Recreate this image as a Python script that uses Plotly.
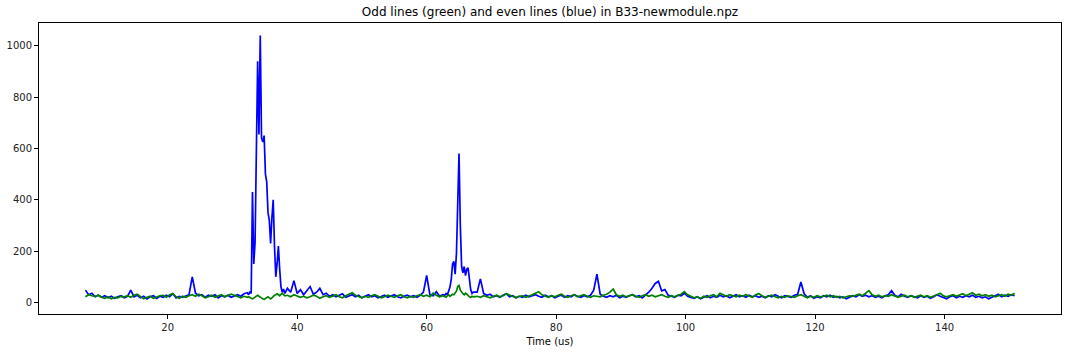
import numpy as np
import plotly.graph_objects as go

# ---- time grid (us): coarse baseline segments, finer around the peaks ----
x_a = 7.3 + 0.5 * np.arange(51)    # 7.3 .. 32.3
x_b = 32.5 + 0.2 * np.arange(29)   # 32.5 .. 38.1
x_c = 38.5 + 0.5 * np.arange(49)   # 38.5 .. 62.5
x_d = 62.8 + 0.2 * np.arange(23)   # 62.8 .. 67.2
x_e = 67.8 + 0.5 * np.arange(167)  # 67.8 .. 150.8
time_us = np.concatenate([x_a, x_b, x_c, x_d, x_e])

# ---- even lines (blue) ----
blue_a = [48, 30, 36, 22, 28, 20, 26, 18, 24, 16, 22, 26, 18, 24, 48, 22, 28, 18, 24, 14,
          22, 26, 16, 24, 20, 28, 22, 34, 18, 24, 20, 26, 30, 100, 36, 26, 30, 20, 28, 24,
          30, 18, 26, 22, 28, 20, 26, 30, 24, 34, 38]
blue_b = [30, 42, 35, 430, 150, 235, 640, 940, 655, 1040, 640, 625, 650, 500, 470, 350, 320,
          230, 330, 400, 220, 100, 150, 220, 130, 60, 40, 52, 35]
blue_c = [55, 40, 85, 35, 50, 30, 45, 62, 32, 40, 55, 30, 36, 24, 30, 22, 28, 34, 20, 26,
          30, 22, 28, 18, 24, 30, 22, 26, 18, 24, 28, 20, 26, 30, 22, 18, 24, 28, 22, 26,
          20, 28, 40, 105, 30, 26, 42, 24, 30]
blue_d = [28, 35, 30, 45, 60, 90, 150, 160, 110, 190, 400, 580, 300, 140, 115, 140, 105, 130,
          135, 80, 50, 35, 40]
blue_e = [40, 92, 35, 28, 32, 22, 26, 20, 28, 34, 22, 26, 18, 24, 20, 28, 22, 26, 30, 24,
          20, 28, 22, 26, 18, 24, 28, 20, 26, 22, 30, 24, 20, 26, 22, 28, 48, 110, 32, 24,
          20, 26, 22, 28, 18, 24, 20, 26, 30, 22, 26, 18, 28, 40, 55, 74, 82, 45, 50, 28,
          24, 20, 28, 26, 36, 24, 20, 16, 22, 14, 20, 26, 18, 24, 20, 28, 22, 26, 18, 24,
          30, 22, 26, 20, 28, 22, 26, 20, 24, 18, 26, 22, 30, 24, 18, 26, 22, 20, 28, 32,
          80, 34, 20, 26, 16, 22, 18, 26, 22, 28, 20, 24, 18, 22, 14, 20, 26, 22, 30, 24,
          28, 22, 26, 20, 24, 18, 26, 30, 46, 28, 22, 32, 24, 20, 26, 22, 18, 26, 20, 24,
          16, 22, 30, 24, 20, 14, 22, 26, 18, 24, 20, 26, 22, 28, 20, 24, 18, 22, 14, 20,
          26, 32, 22, 28, 24, 30, 26]
even_blue = blue_a + blue_b + blue_c + blue_d + blue_e

# ---- odd lines (green) ----
green_a = [22, 30, 26, 24, 28, 20, 16, 22, 14, 20, 18, 24, 22, 26, 20, 28, 32, 22, 14, 20,
           24, 16, 22, 26, 28, 20, 30, 34, 22, 16, 24, 20, 26, 30, 24, 32, 26, 18, 22, 28,
           20, 24, 30, 22, 26, 32, 28, 22, 18, 24, 20]
green_b = [22, 18, 16, 14, 18, 22, 26, 28, 24, 20, 18, 14, 12, 16, 20, 22, 18, 14, 18, 24,
           28, 30, 34, 30, 26, 32, 36, 30, 26]
green_c = [28, 22, 30, 26, 20, 24, 18, 22, 28, 24, 16, 22, 26, 20, 24, 30, 22, 18, 26, 32,
           38, 28, 22, 18, 24, 20, 26, 30, 24, 18, 22, 28, 24, 20, 26, 30, 22, 18, 24, 20,
           26, 30, 24, 28, 22, 36, 28, 22, 26]
green_d = [24, 20, 26, 30, 24, 28, 32, 30, 36, 44, 62, 66, 48, 40, 34, 30, 36, 32, 26, 22,
           20, 24, 22]
green_e = [24, 20, 26, 22, 18, 24, 28, 22, 26, 34, 28, 22, 18, 24, 26, 20, 24, 30, 36, 42,
           30, 24, 20, 26, 22, 28, 32, 24, 20, 26, 30, 22, 26, 30, 24, 20, 26, 24, 22, 28,
           32, 40, 52, 30, 24, 28, 22, 26, 30, 24, 20, 26, 30, 24, 28, 22, 26, 30, 24, 20,
           26, 22, 28, 32, 42, 30, 24, 18, 22, 16, 24, 20, 26, 30, 22, 36, 30, 24, 30, 26,
           22, 28, 24, 30, 26, 20, 30, 34, 26, 20, 24, 28, 22, 18, 24, 20, 26, 24, 20, 26,
           30, 24, 18, 24, 20, 26, 22, 24, 28, 22, 26, 20, 24, 18, 22, 26, 24, 28, 32, 26,
           36, 46, 30, 24, 28, 22, 26, 24, 30, 26, 20, 24, 28, 22, 26, 20, 24, 28, 22, 26,
           20, 24, 30, 36, 26, 22, 26, 30, 24, 28, 34, 26, 32, 38, 28, 32, 26, 30, 24, 28,
           22, 26, 30, 24, 32, 28, 36]
odd_green = green_a + green_b + green_c + green_d + green_e

x_ticks = [20, 40, 60, 80, 100, 120, 140]
y_ticks = [0, 200, 400, 600, 800, 1000]

fig = go.Figure()
fig.add_trace(go.Scatter(x=time_us, y=even_blue, mode="lines",
                         line=dict(color="#0000ff", width=1.7), name="even"))
fig.add_trace(go.Scatter(x=time_us, y=odd_green, mode="lines",
                         line=dict(color="#008000", width=1.7), name="odd"))

axis_common = dict(showgrid=False, zeroline=False, showline=True, linecolor="#000000",
                   linewidth=1, mirror=True, ticks="outside", ticklen=4, tickwidth=1,
                   tickcolor="#000000", tickfont=dict(size=10, color="#222222"),
                   automargin=False)

fig.update_layout(
    width=1072, height=352,
    margin=dict(l=39, r=11, t=23, b=38),
    paper_bgcolor="white", plot_bgcolor="white",
    font=dict(family="DejaVu Sans", size=10, color="#222222"),
    showlegend=False,
    title=dict(text="Odd lines (green) and even lines (blue) in B33-newmodule.npz",
               font=dict(size=12, color="#000000"), x=0.5, xref="paper",
               y=1 - 12 / 352, yref="container", yanchor="middle", xanchor="center"),
    xaxis=dict(range=[0.13, 157.97], tickvals=x_ticks,
               title=dict(text="Time (us)", font=dict(size=10, color="#000000"), standoff=5),
               **axis_common),
    yaxis=dict(range=[-45, 1089], tickvals=y_ticks, **axis_common),
)

fig.write_html("out.html")
